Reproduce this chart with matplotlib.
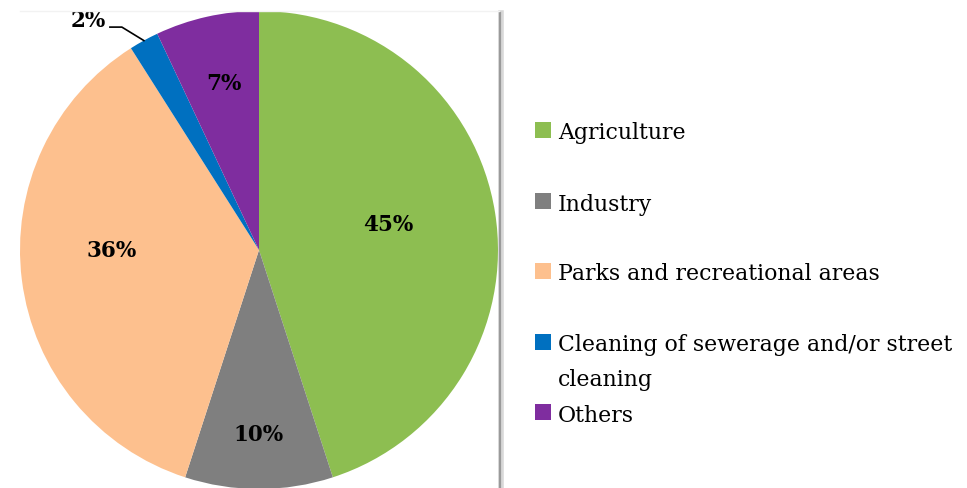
import numpy as np
import matplotlib
matplotlib.use("Agg")
import matplotlib.pyplot as plt
from matplotlib.patches import Rectangle
from matplotlib.lines import Line2D

categories = ["Agriculture", "Industry", "Parks and recreational areas",
              "Cleaning of sewerage and/or street\ncleaning", "Others"]
values = [45, 10, 36, 2, 7]
pct_labels = ["45%", "10%", "36%", "2%", "7%"]
colors = ["#8DBE51", "#7F7F7F", "#FDC08E", "#0070C0", "#7F2D9F"]

# style: label radial distances and angle offsets (deg)
label_r = [0.55, 0.77, 0.615, None, 0.715]
label_dang = [2.4, 0.0, -7.2, 0.0, -0.6]

W, H = 967, 489
fig = plt.figure(figsize=(W / 100, H / 100), dpi=100)
fig.patch.set_facecolor("white")

serif = "DejaVu Serif"

ax = fig.add_axes([20 / W, (H - 490) / H, 478 / W, 478 / H])
wedges, _ = ax.pie(values, colors=colors, startangle=90, counterclock=False,
                   radius=1.0, wedgeprops=dict(linewidth=0))
ax.set_xlim(-1, 1)
ax.set_ylim(-1, 1)
ax.set_aspect("auto")
ax.axis("off")

total = float(sum(values))
start = 90.0
for i, v in enumerate(values):
    span = 360.0 * v / total
    mid = start - span / 2
    if label_r[i] is not None:
        a = np.deg2rad(mid + label_dang[i])
        ax.text(label_r[i] * np.cos(a), label_r[i] * np.sin(a), pct_labels[i],
                ha="center", va="center", fontsize=15.5, fontweight="bold",
                family=serif, color="black")
    else:
        a = np.deg2rad(mid)
        a2 = np.deg2rad(mid + 2.8)
        p0 = (np.cos(a), np.sin(a))
        p1 = (1.095 * np.cos(a2), 1.095 * np.sin(a2))
        p2 = (p1[0] - 0.05, p1[1])
        ax.plot([p0[0], p1[0], p2[0]], [p0[1], p1[1], p2[1]], color="black",
                lw=1.2, clip_on=False)
        ax.text(p2[0] - 0.015, p2[1] + 0.03, pct_labels[i], ha="right", va="center",
                fontsize=15.5, fontweight="bold", family=serif, color="black")
    start -= span

# right border shadow line
fig.add_artist(Line2D([501 / W, 501 / W], [0, 1 - 14 / H], transform=fig.transFigure,
                      color="#d8d8d8", lw=4))
fig.add_artist(Line2D([499.5 / W, 499.5 / W], [0, 1 - 14 / H], transform=fig.transFigure,
                      color="#9a9a9a", lw=1.6))
fig.add_artist(Line2D([20 / W, 499 / W], [1 - 12 / H, 1 - 12 / H], transform=fig.transFigure,
                      color="#f2f2f2", lw=1))

# legend (manual, Excel-like fixed row spacing)
row_y = [131, 202, 272, 343, 413]
sq = 16
for i, cat in enumerate(categories):
    y = row_y[i]
    fig.add_artist(Rectangle((535 / W, 1 - (y + sq / 2) / H), sq / W, sq / H,
                             transform=fig.transFigure, facecolor=colors[i],
                             edgecolor="none"))
    lines = cat.split("\n")
    for k, ln in enumerate(lines):
        fig.text(558 / W, 1 - (y + 35 * k) / H, ln, ha="left", va="center_baseline",
                 fontsize=15.8, family=serif, color="black")

fig.savefig("out.png", dpi=100, facecolor="white")
